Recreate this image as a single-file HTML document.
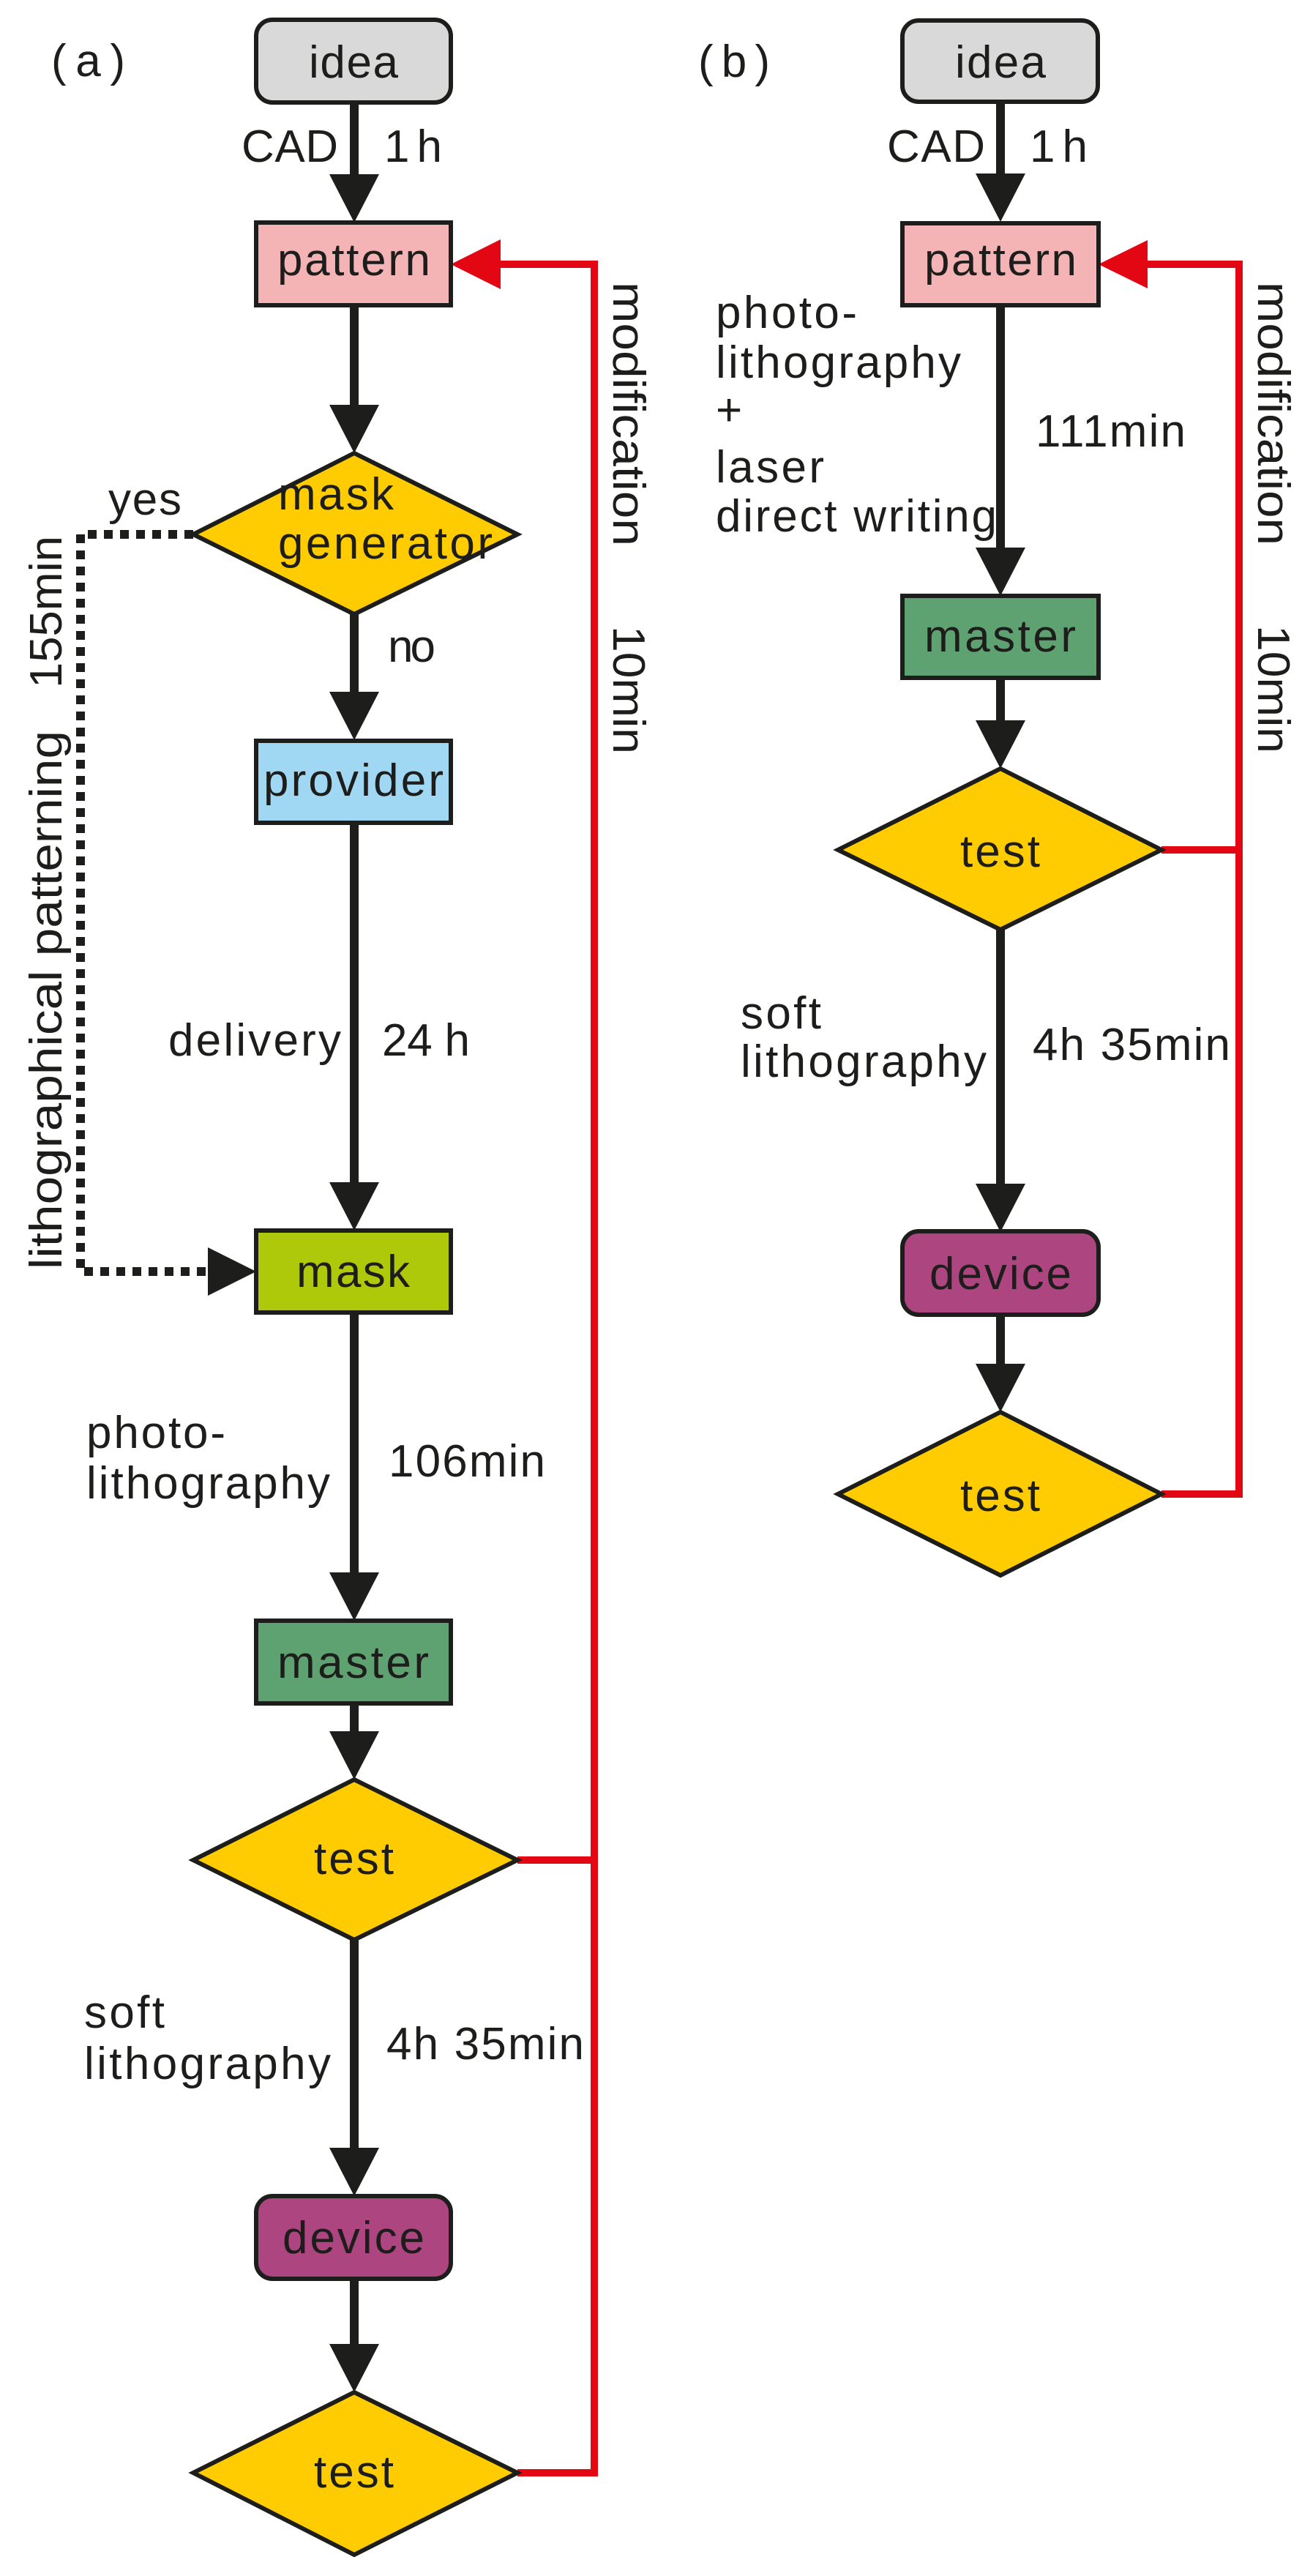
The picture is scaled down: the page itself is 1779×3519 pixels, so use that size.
<!DOCTYPE html>
<html><head><meta charset="utf-8"><style>
html,body{margin:0;padding:0;background:#fff;}
svg{display:block;}
text{font-family:"Liberation Sans",Arial,sans-serif;fill:#1d1d1b;font-size:62px;}
</style></head><body>
<svg width="1779" height="3519" viewBox="0 0 1779 3519" xmlns="http://www.w3.org/2000/svg">
<defs>
<g id="ah"><polygon points="-34,0 34,0 0,66" fill="#1d1d1b"/></g>
</defs>
<!-- ============ Panel A ============ -->
<text x="70" y="104" font-size="68" textLength="101" lengthAdjust="spacing">(a)</text>
<!-- red feedback -->
<polyline points="707,2541 812,2541 812,361 680,361" fill="none" stroke="#e30613" stroke-width="10"/>
<line x1="707" y1="3378" x2="817" y2="3378" stroke="#e30613" stroke-width="10"/>
<line x1="812" y1="2541" x2="812" y2="3383" stroke="#e30613" stroke-width="10"/>
<polygon points="616,361 684,327 684,395" fill="#e30613"/>
<text transform="translate(838,385) rotate(90)" textLength="361" lengthAdjust="spacingAndGlyphs">modification</text>
<text transform="translate(838,855) rotate(90)" textLength="175" lengthAdjust="spacingAndGlyphs">10min</text>
<!-- dotted -->
<polyline points="264,730 110,730 110,1737 290,1737" fill="none" stroke="#1d1d1b" stroke-width="12" stroke-dasharray="12 10"/>
<polygon points="350,1737 284,1704 284,1770" fill="#1d1d1b"/>
<text x="148" y="703" textLength="100" lengthAdjust="spacing">yes</text>
<text transform="translate(84,1734) rotate(-90)" textLength="736" lengthAdjust="spacingAndGlyphs">lithographical patterning</text>
<text transform="translate(84,940) rotate(-90)" textLength="208" lengthAdjust="spacingAndGlyphs">155min</text>
<!-- connectors -->
<g stroke="#1d1d1b" stroke-width="12">
<line x1="484" y1="140" x2="484" y2="240"/>
<line x1="484" y1="417" x2="484" y2="556"/>
<line x1="484" y1="839" x2="484" y2="950"/>
<line x1="484" y1="1124" x2="484" y2="1620"/>
<line x1="484" y1="1793" x2="484" y2="2152"/>
<line x1="484" y1="2327" x2="484" y2="2366"/>
<line x1="484" y1="2650" x2="484" y2="2938"/>
<line x1="484" y1="3113" x2="484" y2="3202"/>
</g>
<use href="#ah" x="484" y="238"/>
<use href="#ah" x="484" y="553"/>
<use href="#ah" x="484" y="945"/>
<use href="#ah" x="484" y="1615"/>
<use href="#ah" x="484" y="2148"/>
<use href="#ah" x="484" y="2365"/>
<use href="#ah" x="484" y="2934"/>
<use href="#ah" x="484" y="3202"/>
<!-- nodes -->
<g stroke="#1d1d1b" stroke-width="6">
<rect x="350" y="27" width="266" height="113" rx="22" fill="#d9d9d9"/>
<rect x="350" y="304" width="266" height="113" fill="#f4b3b4"/>
<polygon points="484,619 707,730 484,839 264,730" fill="#fecc00"/>
<rect x="350" y="1012" width="266" height="112" fill="#a0d8f4"/>
<rect x="350" y="1681" width="266" height="112" fill="#aec90a"/>
<rect x="350" y="2214" width="266" height="113" fill="#5fa271"/>
<polygon points="484,2431 707,2541 484,2650 264,2541" fill="#fecc00"/>
<rect x="350" y="3000" width="266" height="113" rx="22" fill="#ad4680"/>
<polygon points="484,3268 707,3378 484,3490 264,3378" fill="#fecc00"/>
</g>
<text x="422" y="106" textLength="122" lengthAdjust="spacing">idea</text>
<text x="379" y="376" textLength="209" lengthAdjust="spacing">pattern</text>
<text x="380" y="696" textLength="158" lengthAdjust="spacing">mask</text>
<text x="380" y="763" textLength="293" lengthAdjust="spacing">generator</text>
<text x="360" y="1087" textLength="246" lengthAdjust="spacing">provider</text>
<text x="405" y="1758" textLength="155" lengthAdjust="spacing">mask</text>
<text x="379" y="2292" textLength="207" lengthAdjust="spacing">master</text>
<text x="429" y="2560" textLength="109" lengthAdjust="spacing">test</text>
<text x="386" y="3078" textLength="194" lengthAdjust="spacing">device</text>
<text x="429" y="3398" textLength="109" lengthAdjust="spacing">test</text>
<!-- labels -->
<text x="330" y="221" textLength="132" lengthAdjust="spacing">CAD</text>
<text x="525" y="221" textLength="79" lengthAdjust="spacing">1 h</text>
<text x="530" y="904" textLength="65" lengthAdjust="spacing">no</text>
<text x="230" y="1442" textLength="236" lengthAdjust="spacing">delivery</text>
<text x="522" y="1442" textLength="120" lengthAdjust="spacing">24 h</text>
<text x="118" y="1978" textLength="190" lengthAdjust="spacing">photo-</text>
<text x="118" y="2047" textLength="333" lengthAdjust="spacing">lithography</text>
<text x="531" y="2017" textLength="214" lengthAdjust="spacing">106min</text>
<text x="115" y="2770" textLength="110" lengthAdjust="spacing">soft</text>
<text x="115" y="2840" textLength="337" lengthAdjust="spacing">lithography</text>
<text x="528" y="2813" textLength="270" lengthAdjust="spacing">4h 35min</text>

<!-- ============ Panel B ============ -->
<text x="954" y="105" font-size="68" textLength="98" lengthAdjust="spacing">(b)</text>
<polyline points="1587,1161 1693,1161 1693,361 1563,361" fill="none" stroke="#e30613" stroke-width="10"/>
<polyline points="1587,2041 1693,2041 1693,1156" fill="none" stroke="#e30613" stroke-width="10"/>
<polygon points="1501,361 1568,328 1568,394" fill="#e30613"/>
<text transform="translate(1719,385) rotate(90)" textLength="360" lengthAdjust="spacingAndGlyphs">modification</text>
<text transform="translate(1719,854) rotate(90)" textLength="175" lengthAdjust="spacingAndGlyphs">10min</text>
<g stroke="#1d1d1b" stroke-width="12">
<line x1="1367" y1="139" x2="1367" y2="240"/>
<line x1="1367" y1="417" x2="1367" y2="750"/>
<line x1="1367" y1="926" x2="1367" y2="986"/>
<line x1="1367" y1="1270" x2="1367" y2="1620"/>
<line x1="1367" y1="1796" x2="1367" y2="1866"/>
</g>
<use href="#ah" x="1367" y="237"/>
<use href="#ah" x="1367" y="748"/>
<use href="#ah" x="1367" y="984"/>
<use href="#ah" x="1367" y="1617"/>
<use href="#ah" x="1367" y="1863"/>
<g stroke="#1d1d1b" stroke-width="6">
<rect x="1233" y="28" width="267" height="111" rx="22" fill="#d9d9d9"/>
<rect x="1233" y="305" width="268" height="112" fill="#f4b3b4"/>
<rect x="1233" y="814" width="268" height="112" fill="#5fa271"/>
<polygon points="1367,1050 1587,1161 1367,1270 1145,1161" fill="#fecc00"/>
<rect x="1233" y="1682" width="268" height="114" rx="22" fill="#ad4680"/>
<polygon points="1367,1929 1587,2041 1367,2152 1145,2041" fill="#fecc00"/>
</g>
<text x="1305" y="106" textLength="124" lengthAdjust="spacing">idea</text>
<text x="1263" y="376" textLength="208" lengthAdjust="spacing">pattern</text>
<text x="1263" y="890" textLength="207" lengthAdjust="spacing">master</text>
<text x="1312" y="1184" textLength="109" lengthAdjust="spacing">test</text>
<text x="1270" y="1761" textLength="194" lengthAdjust="spacing">device</text>
<text x="1312" y="2064" textLength="109" lengthAdjust="spacing">test</text>
<text x="1212" y="221" textLength="134" lengthAdjust="spacing">CAD</text>
<text x="1407" y="221" textLength="79" lengthAdjust="spacing">1 h</text>
<text x="978" y="448" textLength="193" lengthAdjust="spacing">photo-</text>
<text x="978" y="516" textLength="335" lengthAdjust="spacing">lithography</text>
<text x="978" y="581">+</text>
<text x="978" y="659" textLength="148" lengthAdjust="spacing">laser</text>
<text x="978" y="726" textLength="384" lengthAdjust="spacing">direct writing</text>
<text x="1415" y="610" textLength="205" lengthAdjust="spacing">111min</text>
<text x="1012" y="1405" textLength="110" lengthAdjust="spacing">soft</text>
<text x="1012" y="1471" textLength="336" lengthAdjust="spacing">lithography</text>
<text x="1411" y="1448" textLength="270" lengthAdjust="spacing">4h 35min</text>
</svg>
</body></html>
